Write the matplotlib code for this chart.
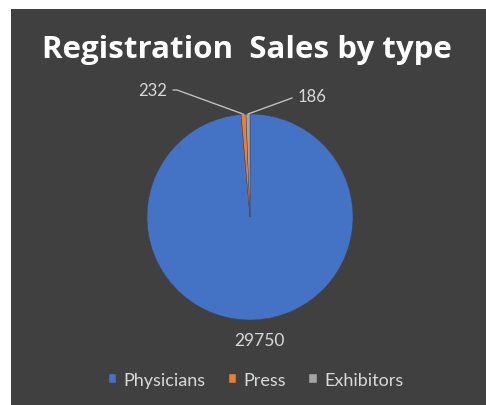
import numpy as np
import matplotlib.pyplot as plt
from matplotlib.patches import Rectangle

categories = ['Physicians', 'Press', 'Exhibitors']
sales = [29750, 232, 186]
colors = ['#4472C4', '#ED7D31', '#A5A5A5']

W, H = 486, 406
bg = '#404040'
txt = '#d9d9d9'


def px(x, y):
    # pixel position (top-left origin) -> figure fraction
    return x / W, 1 - y / H


fig = plt.figure(figsize=(W / 100, H / 100), dpi=100, facecolor='white')
fig.patches.append(Rectangle(px(11, H), (W - 11) / W, (H - 10) / H,
                             transform=fig.transFigure, facecolor=bg,
                             edgecolor='none', zorder=-5))

# pie centre and radius in pixels
cx, cy, r = 250, 218, 103
ax = fig.add_axes([(cx - r) / W, (H - cy - r) / H, 2 * r / W, 2 * r / H])
ax.set_axis_off()
wedges, _ = ax.pie(sales, colors=colors, startangle=90, counterclock=False,
                   radius=1, wedgeprops=dict(edgecolor=bg, linewidth=0.3))
ax.set_xlim(-1, 1)
ax.set_ylim(-1, 1)

fig.text(*px(247, 58), 'Registration  Sales by type', ha='center',
         va='baseline', color='white', fontsize=22.5, fontweight='bold',
         family='Open Sans')

# label positions (pixels) and leader line angles
label_pos = [(259, 341), (153, 91), (312, 97)]
leader = [None, (0, -20), (180, 20)]
for w, val, pos, ld in zip(wedges, sales, label_pos, leader):
    mid = np.deg2rad((w.theta1 + w.theta2) / 2)
    edge = (np.cos(mid), np.sin(mid))
    if ld is None:
        fig.text(*px(*pos), str(val), ha='center', va='center', color=txt,
                 fontsize=12.5, family='Lato')
        continue
    ax.annotate(str(val), xy=edge, xycoords='data', xytext=px(*pos),
                textcoords='figure fraction', ha='center', va='center',
                color=txt, fontsize=12, family='Lato', annotation_clip=False,
                arrowprops=dict(arrowstyle='-', color='#bfbfbf', lw=1,
                                shrinkA=2, shrinkB=0,
                                connectionstyle='angle,angleA=%d,angleB=%d,rad=0'
                                % (ld[0], 180 + ld[1] if ld[0] == 0 else ld[1])))

leg = fig.legend(wedges, categories, loc='center', bbox_to_anchor=px(256, 381),
                 ncol=3, frameon=False, handlelength=0.4,
                 handleheight=0.4, handletextpad=0.4, columnspacing=1.3,
                 prop=dict(family='Lato', size=13))
for t in leg.get_texts():
    t.set_color(txt)

fig.savefig('out.png', dpi=100, facecolor='white')
